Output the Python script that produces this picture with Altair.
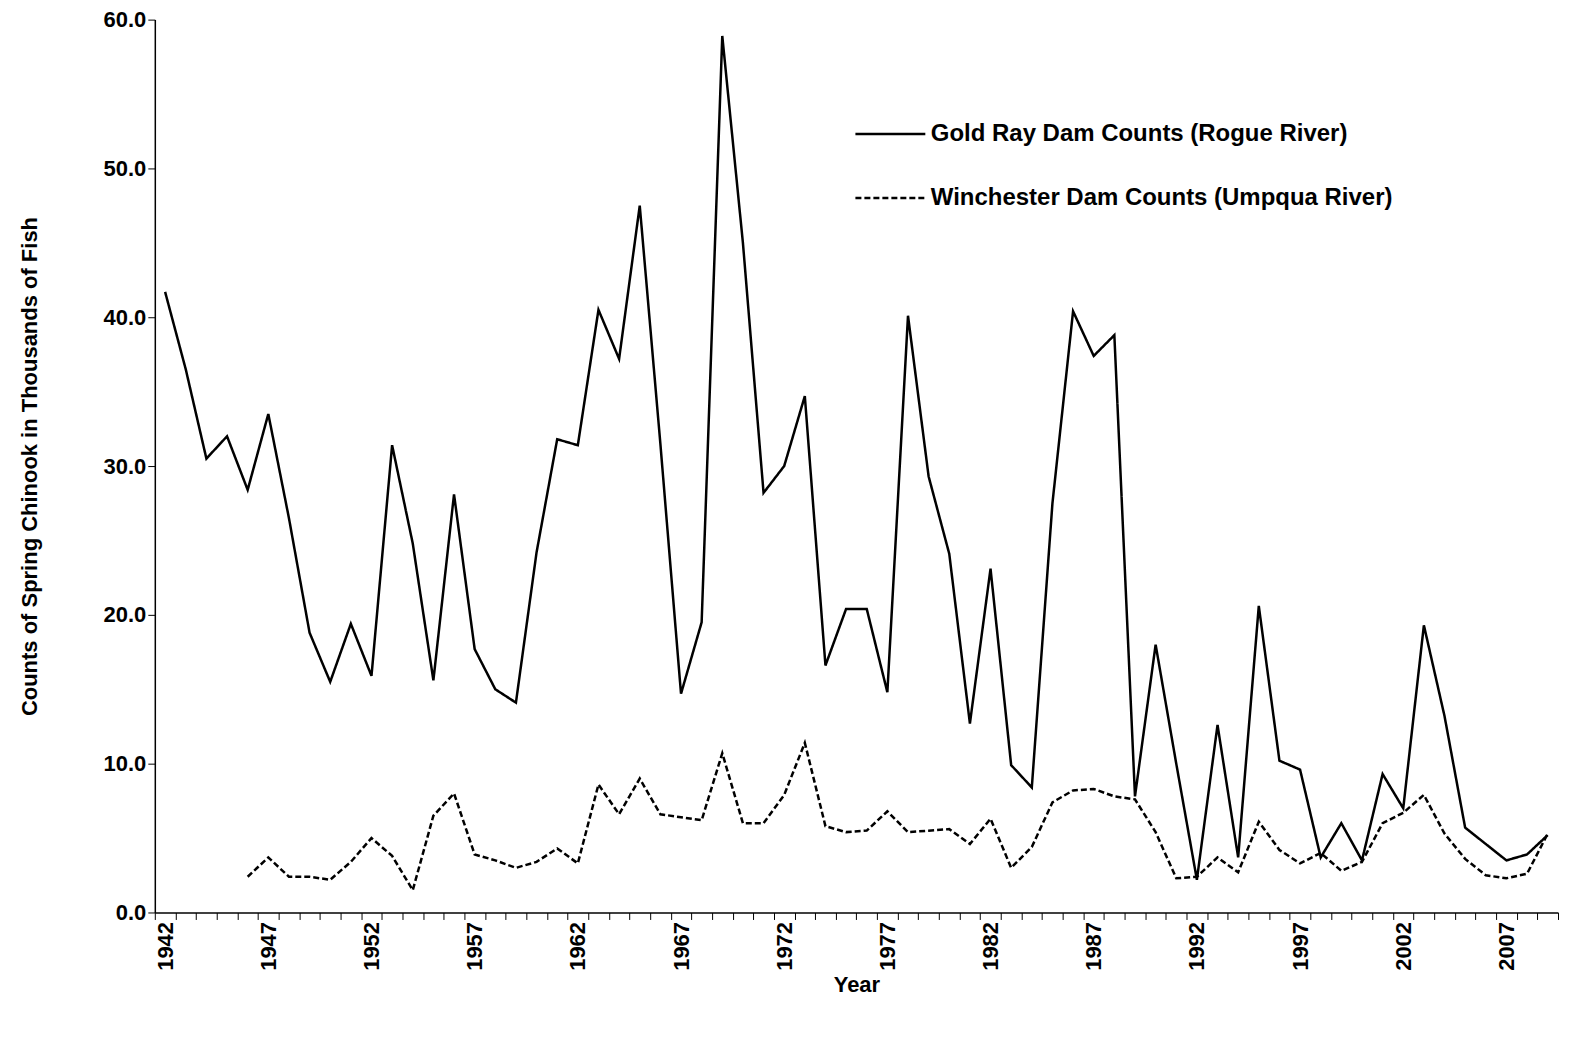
import altair as alt
import pandas as pd

years = list(range(1942, 2010))
gold_ray = [41.7, 36.5, 30.5, 32.0, 28.4, 33.5, 26.5, 18.8, 15.5, 19.4,
            15.9, 31.4, 24.8, 15.6, 28.1, 17.7, 15.0, 14.1, 24.2, 31.8,
            31.4, 40.5, 37.2, 47.5, 31.5, 14.7, 19.5, 58.9, 45.0, 28.2,
            30.0, 34.7, 16.6, 20.4, 20.4, 14.8, 40.1, 29.3, 24.1, 12.7,
            23.1, 9.9, 8.4, 27.5, 40.4, 37.4, 38.8, 7.8, 18.0, 10.0,
            2.2, 12.6, 3.7, 20.6, 10.2, 9.6, 3.7, 6.0, 3.5, 9.3,
            7.0, 19.3, 13.2, 5.7, 4.6, 3.5, 3.9, 5.2]
win_years = list(range(1946, 2010))
winchester = [2.4, 3.7, 2.4, 2.4, 2.2, 3.4, 5.0, 3.8, 1.5, 6.5,
              8.0, 3.9, 3.5, 3.0, 3.4, 4.3, 3.3, 8.6, 6.6, 9.0,
              6.6, 6.4, 6.2, 10.7, 6.0, 6.0, 7.9, 11.4, 5.8, 5.4,
              5.5, 6.8, 5.4, 5.5, 5.6, 4.6, 6.3, 3.0, 4.4, 7.4,
              8.2, 8.3, 7.8, 7.6, 5.4, 2.3, 2.4, 3.7, 2.7, 6.1,
              4.2, 3.3, 4.0, 2.8, 3.4, 6.0, 6.7, 7.9, 5.3, 3.6,
              2.5, 2.3, 2.6, 5.3]

s1 = "Gold Ray Dam Counts (Rogue River)"
s2 = "Winchester Dam Counts (Umpqua River)"
df = pd.concat([
    pd.DataFrame({"year": years, "count": gold_ray, "series": s1}),
    pd.DataFrame({"year": win_years, "count": winchester, "series": s2}),
])

chart = alt.Chart(df).mark_line(color="black", strokeWidth=2.5).encode(
    alt.X("year:O", title="Year", scale=alt.Scale(paddingInner=0, paddingOuter=0),
          axis=alt.Axis(labelAngle=-90, labelExpr="(datum.value - 1942) % 5 == 0 ? datum.value : ''",
                        tickBand="extent", grid=False, labelOverlap=False)),
    alt.Y("count:Q", title="Counts of Spring Chinook in Thousands of Fish",
          scale=alt.Scale(domain=[0, 60]),
          axis=alt.Axis(values=list(range(0, 61, 10)), format=".1f", grid=False,
                        labelOverlap=False, titlePadding=62)),
    strokeDash=alt.StrokeDash("series:N", sort=[s1, s2],
                              scale=alt.Scale(domain=[s1, s2], range=[[1, 0], [6, 3]]),
                              legend=alt.Legend(title=None, orient="none", legendX=700, legendY=78,
                                                symbolType="stroke", symbolStrokeWidth=2.5,
                                                symbolSize=4900, rowPadding=15,
                                                labelFontSize=24, labelFontWeight="bold",
                                                labelLimit=700, symbolStrokeColor="black")),
).properties(width=1405, height=894, padding={"left": 10, "top": 0, "right": 5, "bottom": 5}
).configure_view(stroke=None).configure_axis(
    labelFont="Liberation Sans", titleFont="Liberation Sans",
    labelFontSize=22, labelFontWeight="bold", labelColor="black",
    titleFontSize=22, titleFontWeight="bold", titleColor="black",
    domainColor="black", tickColor="black", domainWidth=1.5, tickSize=7,
).configure_legend(labelFont="Liberation Sans", labelColor="black")

chart.save("out.html", embed_options={"renderer": "svg", "actions": False})
